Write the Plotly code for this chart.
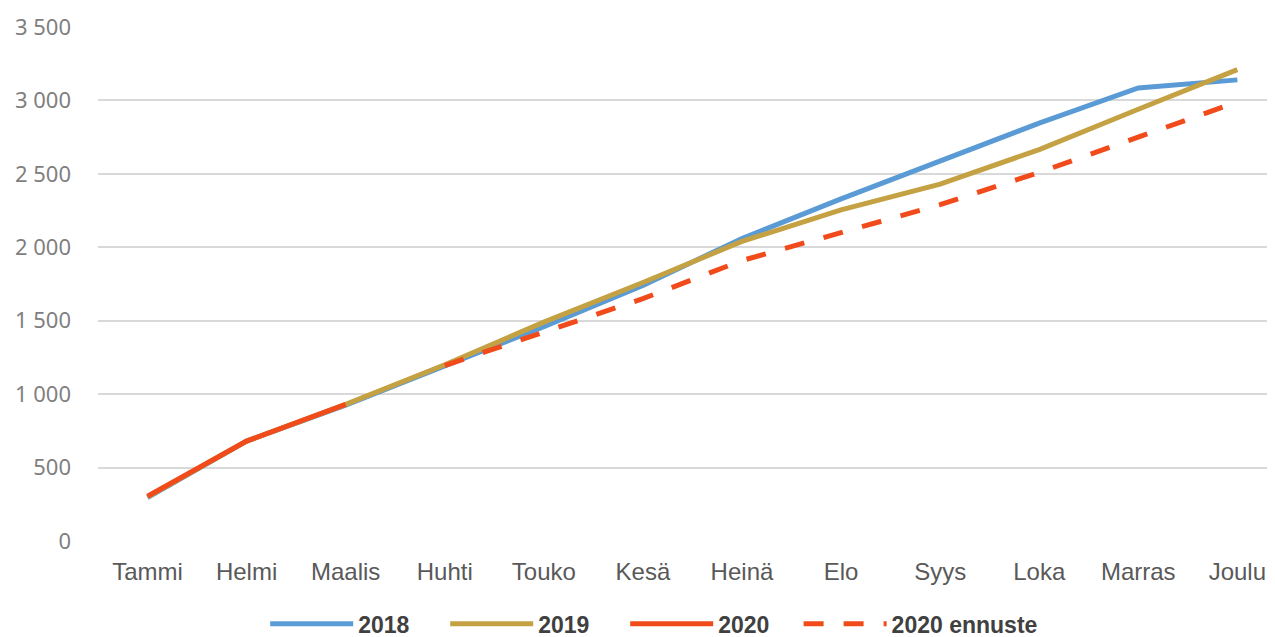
import plotly.graph_objects as go

months = ["Tammi", "Helmi", "Maalis", "Huhti", "Touko", "Kesä", "Heinä", "Elo", "Syys", "Loka", "Marras", "Joulu"]
v2018 = [295, 680, 925, 1195, 1460, 1740, 2060, 2330, 2585, 2845, 3085, 3140]
v2019 = [300, 680, 930, 1200, 1490, 1760, 2040, 2255, 2430, 2665, 2940, 3210]
v2020 = [305, 680, 930]
v2020_forecast = [None, None, None, 1195, 1420, 1650, 1910, 2100, 2290, 2510, 2750, 2990]
ytick_vals = [0, 500, 1000, 1500, 2000, 2500, 3000, 3500]
ytick_text = ["0", "500", "1 000", "1 500", "2 000", "2 500", "3 000", "3 500"]

fig = go.Figure()
fig.add_trace(go.Scatter(x=months, y=v2018, mode="lines", name="2018",
                         line=dict(color="#5B9BD5", width=5)))
fig.add_trace(go.Scatter(x=months, y=v2019, mode="lines", name="2019",
                         line=dict(color="#C4A243", width=5)))
fig.add_trace(go.Scatter(x=months[:len(v2020)], y=v2020, mode="lines", name="2020",
                         line=dict(color="#F24B1B", width=5)))
fig.add_trace(go.Scatter(x=months, y=v2020_forecast, mode="lines", name="2020 ennuste",
                         line=dict(color="#F24B1B", width=5, dash="20px,20px"),
                         legend="legend2"))

legend_font = dict(size=23, color="#404040", weight="bold")
fig.update_layout(
    width=1267, height=629,
    margin=dict(l=90, r=0, t=19, b=96, autoexpand=False),
    plot_bgcolor="white", paper_bgcolor="white",
    font=dict(family="Liberation Sans, Arial", color="#595959", size=17),
    showlegend=True,
    legend=dict(orientation="h", xref="container", yref="container",
                x=0.203, xanchor="left", y=0.021, yanchor="middle",
                font=legend_font, itemwidth=83,
                entrywidth=82, entrywidthmode="pixels", tracegroupgap=0),
    legend2=dict(orientation="h", xref="container", yref="container",
                 x=0.624, xanchor="left", y=0.021, yanchor="middle",
                 font=legend_font, itemwidth=83, tracegroupgap=0),
    xaxis=dict(range=[-0.5, 11.38], showgrid=False, showline=False, ticks="",
               ticklabelstandoff=14, automargin=False,
               tickfont=dict(size=24, color="#595959")),
    yaxis=dict(range=[0, 3500], tickvals=ytick_vals, ticktext=ytick_text,
               showgrid=True, gridcolor="#D9D9D9", gridwidth=1.5, zeroline=False,
               showline=False, ticks="", ticklabelstandoff=26, automargin=False,
               tickfont=dict(family="Noto Sans, DejaVu Sans", size=22, color="#7F7F7F")),
)
fig.write_html("out.html")
